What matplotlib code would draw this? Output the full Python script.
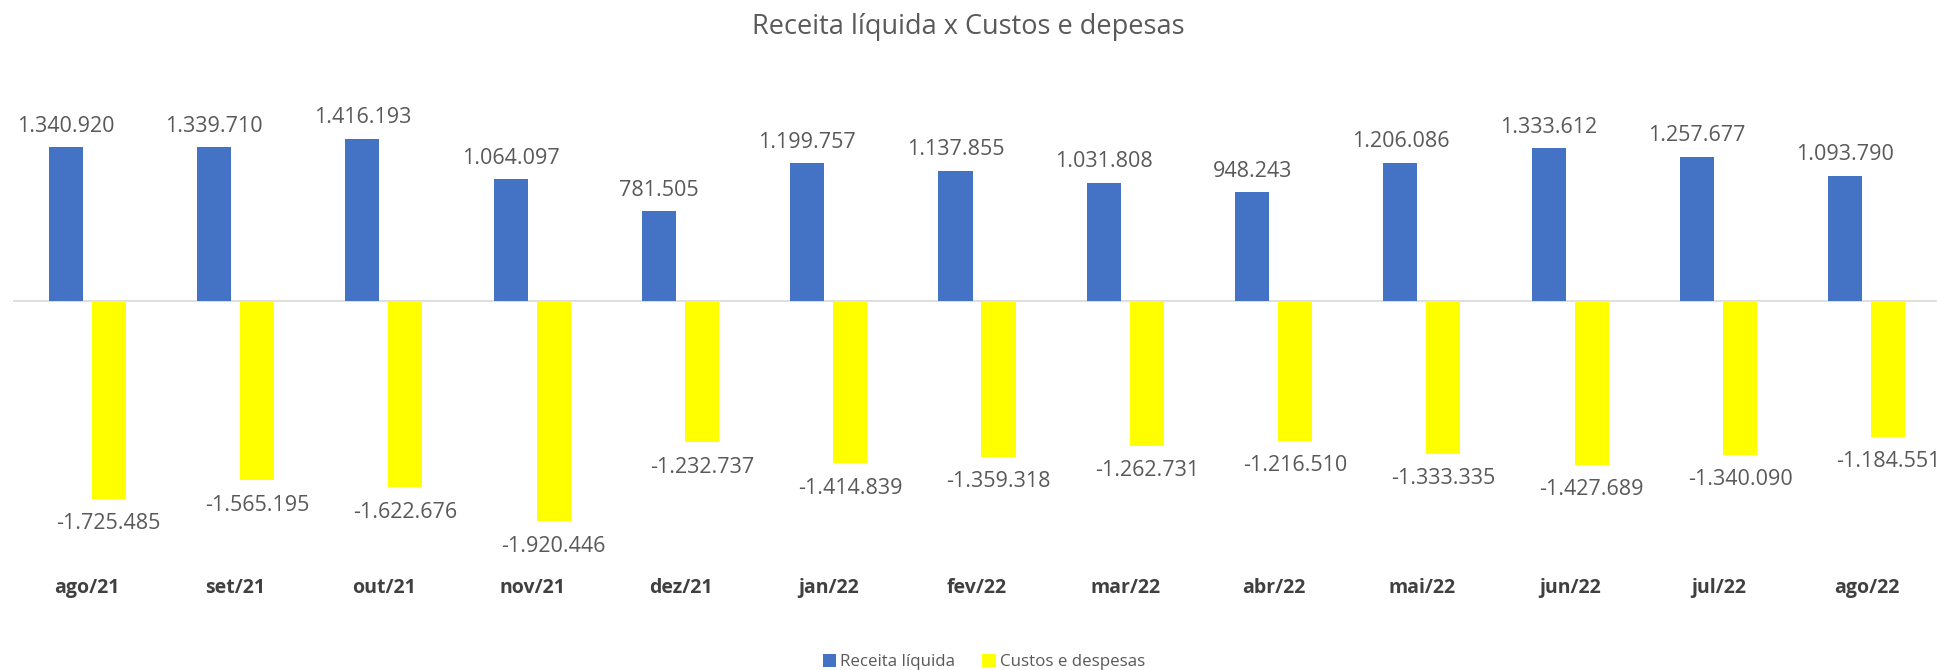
import matplotlib

matplotlib.use("Agg")
import matplotlib.pyplot as plt
import numpy as np

MONTHS = ["ago/21", "set/21", "out/21", "nov/21", "dez/21", "jan/22", "fev/22",
          "mar/22", "abr/22", "mai/22", "jun/22", "jul/22", "ago/22"]
RECEITA = [1340920, 1339710, 1416193, 1064097, 781505, 1199757, 1137855,
           1031808, 948243, 1206086, 1333612, 1257677, 1093790]
CUSTOS = [-1725485, -1565195, -1622676, -1920446, -1232737, -1414839, -1359318,
          -1262731, -1216510, -1333335, -1427689, -1340090, -1184551]

BLUE = "#4472C4"
YELLOW = "#FFFF00"
TEXT = "#595959"
DARK = "#404040"

plt.rcParams["font.family"] = ["Open Sans", "DejaVu Sans"]


def fmt(v):
    return f"{v:,}".replace(",", ".")


W, H = 1937, 670
fig = plt.figure(figsize=(W / 100, H / 100), dpi=100)

# axes placed in pixel terms: zero line at y=301 px, ~8720 units per px
top_px, bot_px, zero_px, per_px = 100, 540, 301, 8720
ax = fig.add_axes([13 / W, 1 - bot_px / H, 1928 / W, (bot_px - top_px) / H])
ax.set_xlim(-0.5, len(MONTHS) - 0.5)
ax.set_ylim(-(bot_px - zero_px) * per_px, (zero_px - top_px) * per_px)

x = np.arange(len(MONTHS))
off, w = 0.145, 0.23
ax.bar(x - off, RECEITA, w, color=BLUE, label="Receita líquida", zorder=2)
ax.bar(x + off, CUSTOS, w, color=YELLOW, label="Custos e despesas", zorder=2)
ax.axhline(0, color="#d9d9d9", linewidth=1.2, zorder=1)

for xi, v in zip(x, RECEITA):
    ax.annotate(fmt(v), (xi - off, v), xytext=(0, 15), textcoords="offset points",
                ha="center", va="center", fontsize=15.5, color=TEXT)
for xi, v in zip(x, CUSTOS):
    ax.annotate(fmt(v), (xi + off, v), xytext=(0, -18), textcoords="offset points",
                ha="center", va="center", fontsize=15.5, color=TEXT)

ax.set_xticks(x)
ax.set_xticklabels(MONTHS, fontsize=14, fontweight="bold", color=DARK)
ax.tick_params(axis="x", length=0, pad=27.5)
ax.set_yticks([])
for s in ax.spines.values():
    s.set_visible(False)

fig.text(968 / W, 1 - 27 / H, "Receita líquida x Custos e depesas",
         ha="center", va="center", fontsize=19.5, color=TEXT)

fig.legend(loc="center", bbox_to_anchor=(984 / W, 1 - 662 / H), ncol=2,
           frameon=False, fontsize=12.2, labelcolor=TEXT, handlelength=0.8,
           handleheight=0.8, handletextpad=0.25, columnspacing=1.6,
           borderpad=0.1)

fig.savefig("out.png", dpi=100)
